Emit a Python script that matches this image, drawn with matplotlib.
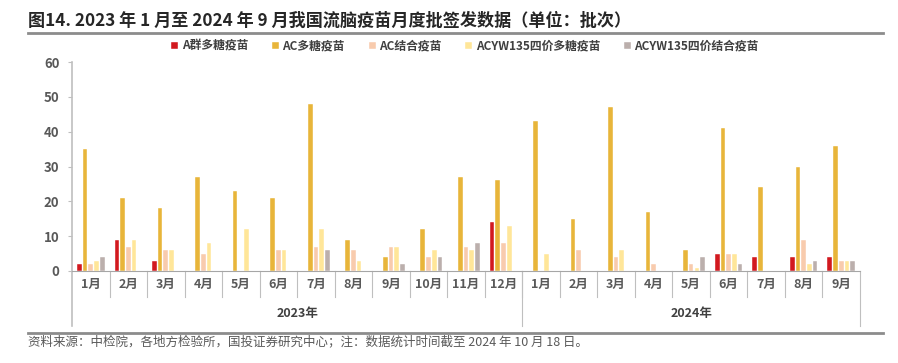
import numpy as np
import matplotlib.pyplot as plt

plt.rcParams['font.family'] = ['Noto Sans CJK SC', 'DejaVu Sans']

months = ['1月', '2月', '3月', '4月', '5月', '6月', '7月', '8月', '9月', '10月', '11月', '12月',
          '1月', '2月', '3月', '4月', '5月', '6月', '7月', '8月', '9月']
years = ['2023年', '2024年']
year_sizes = [12, 9]

series_names = ['A群多糖疫苗', 'AC多糖疫苗', 'AC结合疫苗', 'ACYW135四价多糖疫苗', 'ACYW135四价结合疫苗']
a_poly = [2, 9, 3, 0, 0, 0, 0, 0, 0, 0, 0, 14, 0, 0, 0, 0, 0, 5, 4, 4, 4]
ac_poly = [35, 21, 18, 27, 23, 21, 48, 9, 4, 12, 27, 26, 43, 15, 47, 17, 6, 41, 24, 30, 36]
ac_conj = [2, 7, 6, 5, 0, 6, 7, 6, 7, 4, 7, 8, 0, 6, 4, 2, 2, 5, 0, 9, 3]
acyw_poly = [3, 9, 6, 8, 12, 6, 12, 3, 7, 6, 6, 13, 5, 0, 6, 0, 1, 5, 0, 2, 3]
acyw_conj = [4, 0, 0, 0, 0, 0, 6, 0, 2, 4, 8, 0, 0, 0, 0, 0, 4, 2, 0, 3, 3]
colors = ['#D2191F', '#E8B53A', '#F8CBAD', '#FFE699', '#BBAFAC']

title = '图14. 2023 年 1 月至 2024 年 9 月我国流脑疫苗月度批签发数据（单位：批次）'
note = '资料来源：中检院，各地方检验所，国投证券研究中心；注：数据统计时间截至 2024 年 10 月 18 日。'

fig = plt.figure(figsize=(8.98, 3.63), dpi=100)
W, H = 898, 363
ax = fig.add_axes([72 / W, 92 / H, (860 - 72) / W, (271 - 62) / H])

x = np.arange(len(months))
data = [a_poly, ac_poly, ac_conj, acyw_poly, acyw_conj]
step = 0.152
for k, (vals, c, name) in enumerate(zip(data, colors, series_names)):
    ax.bar(x + (k - 2) * step, vals, width=0.125, color=c, label=name,
           edgecolor='white', linewidth=0.3)

ax.set_xlim(-0.5, len(months) - 0.5)
ax.set_ylim(0, 60)
ax.set_yticks(range(0, 61, 10))
ax.set_xticks([])
for s in ['top', 'right']:
    ax.spines[s].set_visible(False)
ax.spines['left'].set_visible(False)
ax.spines['bottom'].set_color('#A6A6A6')
ax.tick_params(axis='y', colors='#BFBFBF', length=3, labelcolor='#595959', labelsize=9.5, pad=6)
for lab in ax.get_yticklabels():
    lab.set_fontweight('bold')

# category table under the axis
tr = ax.get_xaxis_transform()
month_h = -(297 - 271) / (271 - 62)
year_h = -(326 - 271) / (271 - 62)
ax.plot([-0.5, -0.5], [1.0, year_h], transform=tr, color='#BFBFBF', lw=1.2, clip_on=False)
for i, m in enumerate(months):
    ax.text(i, month_h / 2, m, transform=tr, ha='center', va='center',
            fontsize=9, color='#595959', fontweight='bold')
    if i > 0:
        ax.plot([i - 0.5, i - 0.5], [0, month_h], transform=tr, color='#BFBFBF', lw=0.8, clip_on=False)
start = 0
for yname, n in zip(years, year_sizes):
    end = start + n
    ax.plot([end - 0.5, end - 0.5], [0, year_h], transform=tr, color='#BFBFBF', lw=0.8, clip_on=False)
    ax.text((start + end - 1) / 2, (month_h + year_h) / 2 - 0.01, yname, transform=tr,
            ha='center', va='center', fontsize=9, color='#404040', fontweight='bold')
    start = end

# title and footer
fig.text(28 / W, 1 - 21 / H, title, fontsize=12.3, fontweight='bold', color='#262626', ha='left', va='center')
fig.add_artist(plt.Line2D([28 / W, 883 / W], [1 - 33 / H, 1 - 33 / H], color='#8C8C8C', lw=2))
fig.add_artist(plt.Line2D([28 / W, 883 / W], [1 - 333 / H, 1 - 333 / H], color='#8C8C8C', lw=2))
fig.text(28 / W, 1 - 342 / H, note, fontsize=9, color='#595959', ha='left', va='center', style='italic')

leg = fig.legend(loc='center', bbox_to_anchor=(465 / W, 1 - 46 / H), ncol=5, frameon=False,
                 fontsize=8.5, handlelength=0.6, handleheight=0.6, handletextpad=0.3, columnspacing=2.0,
                 labelcolor='#404040')
for t in leg.get_texts():
    t.set_fontweight('bold')

fig.savefig('out.png', dpi=100)
